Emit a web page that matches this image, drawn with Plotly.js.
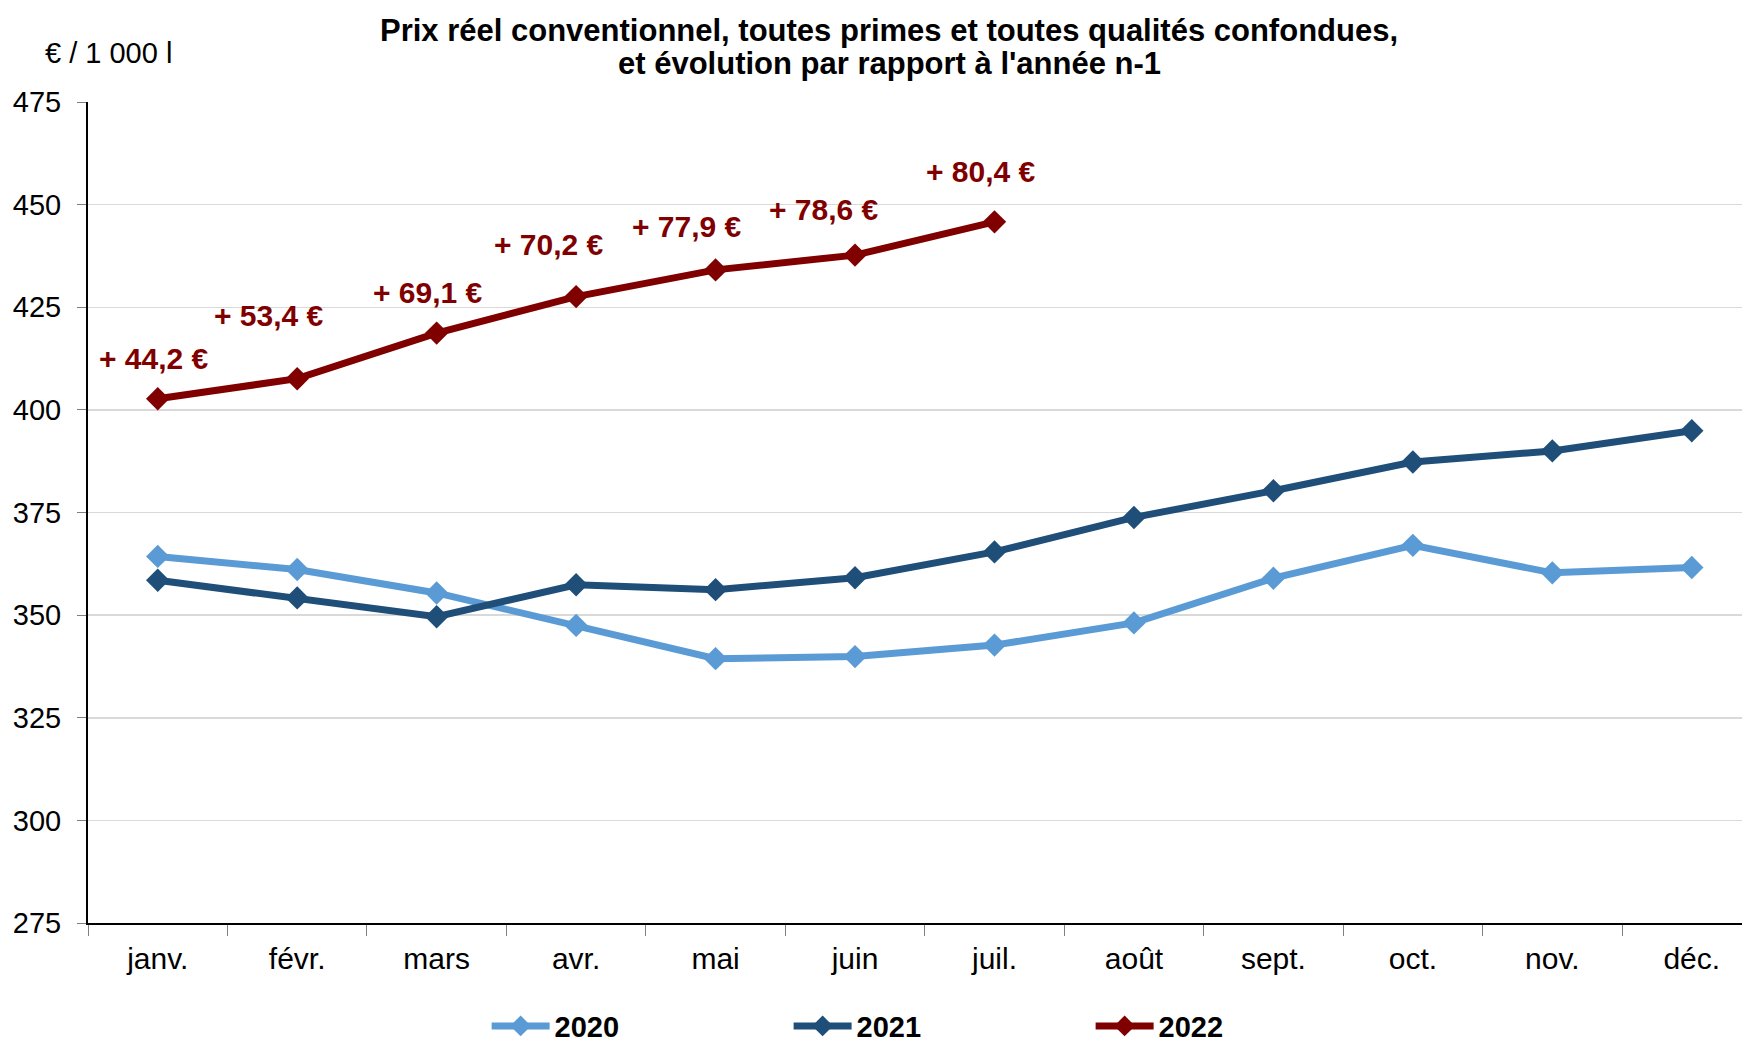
<!DOCTYPE html>
<html>
<head>
<meta charset="utf-8">
<script src="https://cdn.plot.ly/plotly-3.0.1.min.js"></script>
<style>html,body{margin:0;padding:0;background:#fff;}#chart{width:1742px;height:1043px;}</style>
</head>
<body>
<div id="chart"></div>
<script>
const months = ["janv.","févr.","mars","avr.","mai","juin","juil.","août","sept.","oct.","nov.","déc."];
const y2020 = [364.3,361.1,355.4,347.5,339.4,339.9,342.7,348.1,359.0,367.0,360.3,361.6];
const y2021 = [358.5,354.2,349.6,357.4,356.2,359.1,365.4,373.8,380.3,387.3,390.0,394.9];
const y2022 = [402.7,407.6,418.7,427.6,434.1,437.7,445.8];
const evolLabels = ["+ 44,2 €","+ 53,4 €","+ 69,1 €","+ 70,2 €","+ 77,9 €","+ 78,6 €","+ 80,4 €"];
const yTicks = [275,300,325,350,375,400,425,450,475];
const titleLines = ["Prix réel conventionnel, toutes primes et toutes qualités confondues,",
                    "et évolution par rapport à l'année n-1"];

// label offsets (pixels) relative to each 2022 point
const labelDx = [-4,-28,-9,-27,-29,-31,-13];
const labelDy = [-40,-63,-41,-52,-43,-46,-50];

const FONT = "Liberation Sans, Arial, sans-serif";
const colors = {"2020":"#5B9BD5","2021":"#1F4E79","2022":"#800000"};

function series(name, ys){
  return {
    type:"scatter", mode:"lines+markers", name:name,
    x: months.slice(0, ys.length), y: ys,
    line:{color:colors[name], width:7},
    marker:{symbol:"diamond", size:18, color:colors[name]}
  };
}
const data = [series("2020", y2020), series("2021", y2021), series("2022", y2022)];

const annotations = evolLabels.map((t,i)=>({
  x: months[i], y: y2022[i], xref:"x", yref:"y",
  text: "<b>"+t+"</b>", showarrow:true, arrowcolor:"rgba(0,0,0,0)",
  ax: labelDx[i], ay: labelDy[i],
  font:{family:FONT, size:30, color:"#800000"}
}));
annotations.push({
  xref:"paper", yref:"paper", x:-0.027, y:1.06, xanchor:"left", yanchor:"middle",
  text:"€ / 1 000 l", showarrow:false, font:{family:FONT, size:29, color:"#000"}
});
// two title lines (tight line spacing as in the original)
[30, 64].forEach((py, i)=>{
  annotations.push({
    xref:"paper", yref:"paper", x:(889-88)/1654, xanchor:"center",
    y: 1 + (102-py)/821, yanchor:"middle",
    text:"<b>"+titleLines[i]+"</b>", showarrow:false,
    font:{family:FONT, size:31, color:"#000"}
  });
});

const layout = {
  width:1742, height:1043,
  paper_bgcolor:"#fff", plot_bgcolor:"#fff",
  margin:{l:88, r:0, t:102, b:120, autoexpand:false},
  font:{family:FONT, color:"#000"},
  xaxis:{
    type:"category", categoryorder:"array", categoryarray:months,
    range:[-0.5, 11.36], tickson:"boundaries", ticks:"outside", ticklen:11, tickcolor:"#808080", tickwidth:1,
    showline:true, linecolor:"#000", linewidth:2, showgrid:false, zeroline:false,
    tickfont:{family:FONT, size:30, color:"#000"}, ticklabelstandoff:8, fixedrange:true, automargin:false
  },
  yaxis:{
    range:[275,475], tickvals:yTicks, ticks:"outside", ticklen:9, tickcolor:"#808080", tickwidth:1,
    showline:true, linecolor:"#000", linewidth:2, showgrid:true, gridcolor:"#D9D9D9", gridwidth:1.5,
    zeroline:false, tickfont:{family:FONT, size:29, color:"#000"}, ticklabelstandoff:10, automargin:false
  },
  showlegend:true,
  legend:{orientation:"h", x:0.241, xanchor:"left", y:-0.1255, yanchor:"middle",
          entrywidth:229, entrywidthmode:"pixels", itemwidth:58, traceorder:"normal",
          font:{family:FONT, size:29, color:"#000", weight:"bold"}, bgcolor:"rgba(0,0,0,0)"},
  annotations: annotations
};
Plotly.newPlot("chart", data, layout, {displayModeBar:false, staticPlot:true});
</script>
</body>
</html>
